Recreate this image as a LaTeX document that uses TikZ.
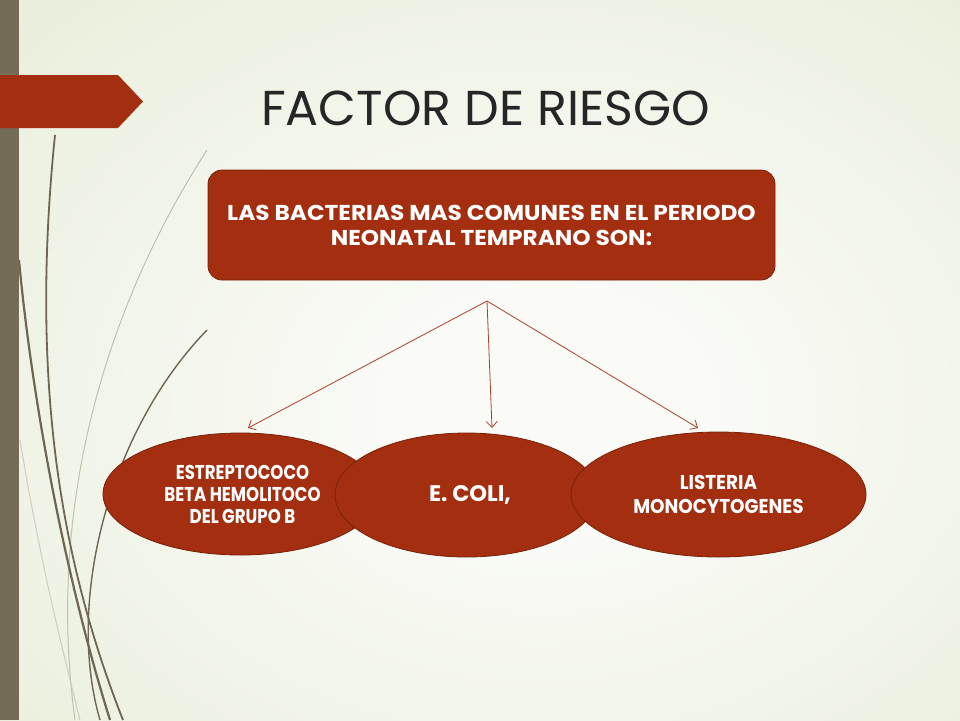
\documentclass[tikz,border=0pt]{standalone}
\usepackage{fontspec}
\setmainfont{Poppins}
\newfontfamily\titlefont{Poppins}
\newfontfamily\boxfont[FakeStretch=1.08]{Poppins}
\newfontfamily\colifont{Poppins}
\newfontfamily\ellfont[FakeStretch=0.83]{Poppins}
\newfontfamily\ellfontb[FakeStretch=0.92]{Poppins}
\usetikzlibrary{shapes.geometric,arrows.meta}
\definecolor{bgin}{RGB}{250,251,247}
\definecolor{bgout}{RGB}{224,232,204}
\definecolor{barcol}{RGB}{117,108,87}
\definecolor{redfill}{RGB}{164,46,16}
\definecolor{redline}{RGB}{120,34,10}
\definecolor{arrowcol}{RGB}{172,62,42}
\definecolor{titlecol}{RGB}{38,38,38}
\definecolor{curvedark}{RGB}{110,102,82}
\definecolor{curvelight}{RGB}{190,195,175}
\pgfdeclareradialshading{bgshade}{\pgfpoint{4bp}{-4bp}}{color(0bp)=(bgin); color(8bp)=(bgin); color(55bp)=(bgout); color(80bp)=(bgout)}
\tikzset{
  redbox/.style={draw=redline, line width=0.8pt, fill=redfill, rounded corners=14pt, text=white, align=center, inner sep=0pt},
  redell/.style={ellipse, draw=redline, line width=0.8pt, fill=redfill, text=white, align=center, inner sep=0pt},
  conn/.style={draw=arrowcol, line width=0.8pt, -{Straight Barb[length=6pt,width=11pt]}},
  darkcurve/.style={draw=curvedark, line width=2.2pt},
  thincurve/.style={draw=curvedark, line width=1pt},
  lightcurve/.style={draw=curvelight, line width=1pt},
}
\begin{document}
\begin{tikzpicture}[x=1pt,y=-1pt]
\useasboundingbox (0,0) rectangle (960,720);
\shade[shading=bgshade] (0,0) rectangle (960,720);
% decorative curves
\draw[lightcurve] (207,150) .. controls (110,300) and (45,500) .. (75,720);
\draw[lightcurve, draw=curvelight!80] (20,440) .. controls (40,560) and (60,640) .. (80,720);
\draw[darkcurve] (19,260) .. controls (30,380) and (60,560) .. (110,720);
\draw[darkcurve, line width=1.8pt] (55,135) .. controls (30,380) and (60,560) .. (123,720);
\draw[thincurve, line width=1.4pt] (207,330) .. controls (110,430) and (65,600) .. (100,720);
% left bar and banner
\fill[barcol] (0,0) rectangle (19,720);
\fill[redfill] (0,75) -- (118,75) -- (143,101.5) -- (118,128) -- (0,128) -- cycle;
% title
\node[text=titlecol, font=\titlefont\fontsize{49}{58}\selectfont, anchor=center] (title) at (485.5,108) {FACTOR DE RIESGO};
% main box
\node[redbox, minimum width=567pt, minimum height=110pt, font=\boxfont\bfseries\fontsize{21.5}{25}\selectfont] (box) at (491.5,225) {\raisebox{0pt}{LAS BACTERIAS MAS COMUNES EN EL PERIODO}\\NEONATAL TEMPRANO SON:};
% ellipses
\node[redell, minimum width=275pt, minimum height=122pt, font=\ellfont\bfseries\fontsize{20}{22}\selectfont] (e1) at (240.5,494) {\hspace*{4pt}ESTREPTOCOCO\\\hspace*{4pt}BETA HEMOLITOCO\\\hspace*{4pt}DEL GRUPO B};
\node[redell, minimum width=263pt, minimum height=124pt, font=\colifont\bfseries\fontsize{22.5}{26}\selectfont] (e2) at (466.5,495) {\hspace*{7pt}E. COLI,};
\node[redell, minimum width=295pt, minimum height=125pt, font=\ellfontb\bfseries\fontsize{20}{24}\selectfont] (e3) at (718.5,494.5) {LISTERIA\\MONOCYTOGENES};
% connectors
\coordinate (hub) at (487,301);
\coordinate (t1) at (248,428);
\coordinate (t2) at (492,428);
\coordinate (t3) at (698,428);
\draw[conn] (hub) -- (t1);
\draw[conn] (hub) -- (t2);
\draw[conn] (hub) -- (t3);
\end{tikzpicture}
\end{document}
